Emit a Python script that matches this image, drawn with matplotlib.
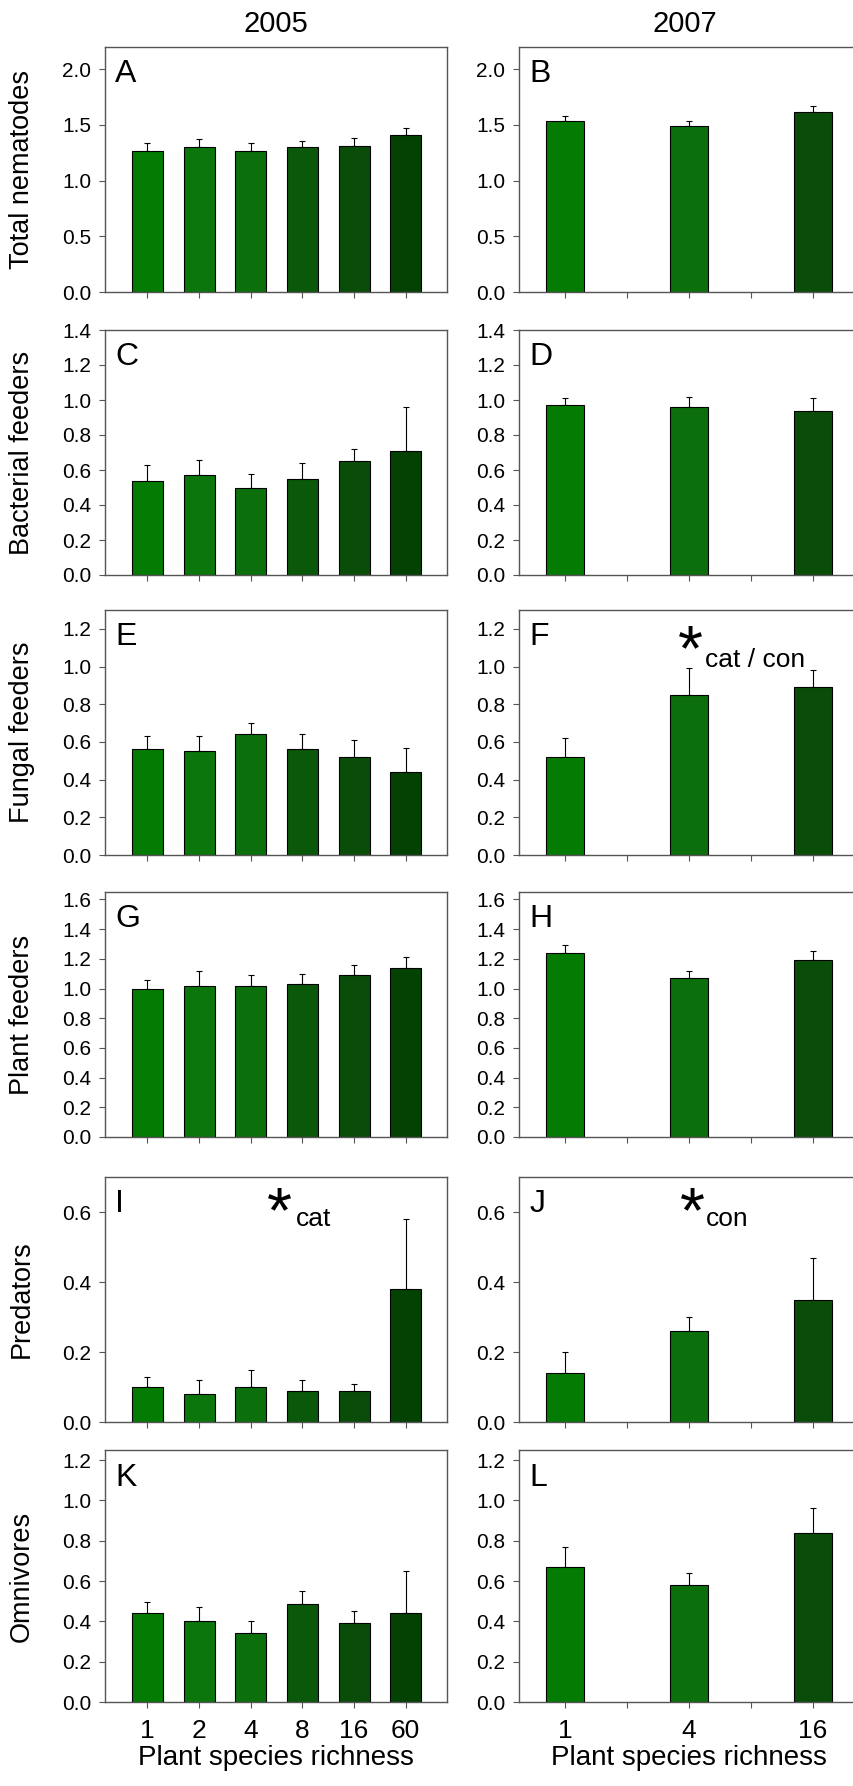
import numpy as np
import matplotlib
matplotlib.use("Agg")
import matplotlib.pyplot as plt

plt.rcParams['font.family'] = ['Liberation Sans', 'DejaVu Sans']

# richness levels
rich05 = ['1', '2', '4', '8', '16', '60']
rich07 = ['1', '4', '16']

groups = ['Total nematodes', 'Bacterial feeders', 'Fungal feeders',
          'Plant feeders', 'Predators', 'Omnivores']
letters05 = ['A', 'C', 'E', 'G', 'I', 'K']
letters07 = ['B', 'D', 'F', 'H', 'J', 'L']

# means and (upper) standard errors, 2005
mean05 = [
    [1.27, 1.30, 1.27, 1.30, 1.31, 1.41],
    [0.54, 0.57, 0.50, 0.55, 0.65, 0.71],
    [0.56, 0.55, 0.64, 0.56, 0.52, 0.44],
    [1.00, 1.02, 1.02, 1.03, 1.09, 1.14],
    [0.10, 0.08, 0.10, 0.09, 0.09, 0.38],
    [0.44, 0.40, 0.34, 0.485, 0.39, 0.44],
]
se05 = [
    [0.07, 0.07, 0.07, 0.06, 0.07, 0.06],
    [0.09, 0.09, 0.08, 0.09, 0.07, 0.25],
    [0.07, 0.08, 0.06, 0.08, 0.09, 0.13],
    [0.06, 0.10, 0.07, 0.07, 0.07, 0.07],
    [0.03, 0.04, 0.05, 0.03, 0.02, 0.20],
    [0.055, 0.07, 0.06, 0.065, 0.06, 0.21],
]
# 2007
mean07 = [
    [1.54, 1.49, 1.62],
    [0.97, 0.96, 0.94],
    [0.52, 0.85, 0.89],
    [1.24, 1.07, 1.19],
    [0.14, 0.26, 0.35],
    [0.67, 0.58, 0.84],
]
se07 = [
    [0.04, 0.05, 0.05],
    [0.04, 0.06, 0.07],
    [0.10, 0.14, 0.09],
    [0.05, 0.05, 0.06],
    [0.06, 0.04, 0.12],
    [0.10, 0.06, 0.12],
]

ytop = [2.2, 1.4, 1.3, 1.65, 0.7, 1.25]
ysteps = [0.5, 0.2, 0.2, 0.2, 0.2, 0.2]
ymaxtick = [2.0, 1.4, 1.2, 1.6, 0.6, 1.2]

col05 = ['#047c04', '#0b760b', '#0b700b', '#0a580a', '#094d09', '#034203']
col07 = ['#047c04', '#0b700b', '#094d09']

W, H = 854, 1786
fig = plt.figure(figsize=(W / 100, H / 100), dpi=100)

tops = [47, 330, 610, 892, 1177, 1450]
heights = [245, 245, 245, 245, 245, 252]
lx, lw = 105, 342
rx, rw = 519, 340

spine_col = '#555555'


def style(ax):
    for s in ax.spines.values():
        s.set_color(spine_col)
        s.set_linewidth(1.0)
    ax.tick_params(axis='both', direction='out', length=4, width=0.8,
                   color=spine_col)
    ax.tick_params(axis='y', labelsize=15, pad=6)
    ax.tick_params(axis='x', labelsize=19, pad=8)


for i in range(6):
    ph = heights[i]
    b = tops[i] + ph
    axl = fig.add_axes([lx / W, 1 - b / H, lw / W, ph / H])
    axr = fig.add_axes([rx / W, 1 - b / H, rw / W, ph / H])

    x5 = np.arange(len(rich05))
    axl.bar(x5, mean05[i], 0.6, color=col05, edgecolor='black', linewidth=0.8, zorder=2)
    axl.errorbar(x5, mean05[i], yerr=[np.zeros(6), se05[i]], fmt='none',
                 ecolor='black', elinewidth=0.8, capsize=2.5, capthick=0.8, zorder=1)
    axl.set_xlim(-0.82, 5.8)

    x7 = np.arange(len(rich07)) * 2
    axr.bar(x7, mean07[i], 0.6, color=col07, edgecolor='black', linewidth=0.8, zorder=2)
    axr.errorbar(x7, mean07[i], yerr=[np.zeros(3), se07[i]], fmt='none',
                 ecolor='black', elinewidth=0.8, capsize=2.5, capthick=0.8, zorder=1)
    axr.set_xlim(-0.74, 4.74)
    axr.set_xticks(np.arange(5))

    for ax, let in ((axl, letters05[i]), (axr, letters07[i])):
        ax.set_ylim(0, ytop[i])
        ax.set_yticks(np.arange(0, ymaxtick[i] + 1e-6, ysteps[i]))
        ax.set_yticklabels(['%.1f' % v for v in ax.get_yticks()])
        style(ax)
        ax.text(0.03, 0.95, let, transform=ax.transAxes, fontsize=23,
                ha='left', va='top')

    axl.set_xticks(x5)
    if i == 5:
        axl.set_xticklabels(rich05)
        axr.set_xticklabels(['1', '', '4', '', '16'])
        axl.set_xlabel('Plant species richness', fontsize=20, labelpad=2)
        axr.set_xlabel('Plant species richness', fontsize=20, labelpad=2)
    else:
        axl.set_xticklabels([])
        axr.set_xticklabels([])

    fig.text(22 / W, 1 - (tops[i] + ph / 2) / H, groups[i], rotation=90,
             fontsize=19.5, ha='center', va='center')

    if i == 2:
        axr.text(2.02, 1.07, '*', fontsize=46, ha='center', va='center')
        axr.text(2.25, 1.0, 'cat / con', fontsize=19, ha='left', va='baseline')
    if i == 4:
        axl.text(2.55, 0.59, '*', fontsize=46, ha='center', va='center')
        axl.text(2.88, 0.56, 'cat', fontsize=19, ha='left', va='baseline')
        axr.text(2.05, 0.59, '*', fontsize=46, ha='center', va='center')
        axr.text(2.27, 0.56, 'con', fontsize=19, ha='left', va='baseline')

fig.text((lx + lw / 2) / W, 1 - 24 / H, '2005', fontsize=21, ha='center', va='center')
fig.text((rx + rw / 2 - 4) / W, 1 - 24 / H, '2007', fontsize=21, ha='center', va='center')

fig.savefig('out.png', dpi=100)
